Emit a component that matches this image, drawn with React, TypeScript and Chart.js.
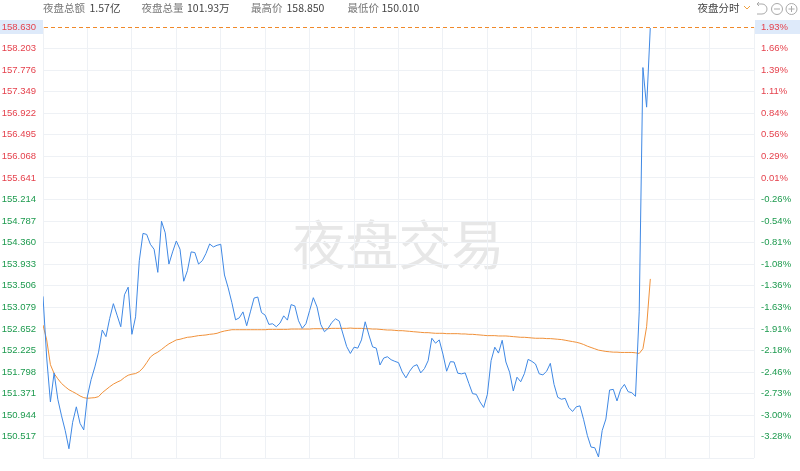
import { useEffect, useRef } from 'react';
import { Chart, registerables } from 'chart.js';

Chart.register(...registerables);

// ---- data ----
const leftTickLabels = ['158.630', '158.203', '157.776', '157.349', '156.922', '156.495', '156.068', '155.641', '155.214', '154.787', '154.360', '153.933', '153.506', '153.079', '152.652', '152.225', '151.798', '151.371', '150.944', '150.517'];
const rightTickLabels = ['1.93%', '1.66%', '1.39%', '1.11%', '0.84%', '0.56%', '0.29%', '0.01%', '-0.26%', '-0.54%', '-0.81%', '-1.08%', '-1.36%', '-1.63%', '-1.91%', '-2.18%', '-2.46%', '-2.73%', '-3.00%', '-3.28%'];
const axisMin = 150.09;
const lastPrice = 158.63;
const totalSlots = 192;
const gridStep = 12;

const headerLabels = ['夜盘总额', '夜盘总量', '最高价', '最低价'];
const headerValues = ['1.57亿', '101.93万', '158.850', '150.010'];
const modeLabel = '夜盘分时';
const watermark = '夜盘交易';

const prices = [
  153.296, 152.075, 151.207, 151.781, 151.259, 150.932, 150.639, 150.279, 150.802, 151.109,
  150.782, 150.652, 151.324, 151.651, 151.899, 152.192, 152.630, 152.499, 152.858, 153.152,
  152.924, 152.695, 153.328, 153.479, 152.545, 152.891, 154.001, 154.543, 154.523, 154.327,
  154.229, 153.772, 154.784, 154.556, 153.936, 154.177, 154.393, 154.229, 153.596, 153.805,
  154.177, 154.164, 153.936, 154.001, 154.145, 154.334, 154.275, 154.308, 154.327, 153.720,
  153.466, 153.172, 152.832, 152.871, 152.989, 152.715, 152.989, 153.263, 153.283, 152.976,
  152.924, 152.741, 152.754, 152.695, 152.767, 152.911, 152.826, 153.133, 153.107, 152.813,
  152.663, 152.754, 153.015, 153.270, 153.087, 152.741, 152.597, 152.663, 152.780, 152.852,
  152.806, 152.552, 152.303, 152.166, 152.290, 152.271, 152.434, 152.793, 152.532, 152.297,
  152.271, 151.938, 152.075, 152.101, 152.042, 152.010, 151.984, 151.801, 151.683, 151.814,
  151.912, 151.944, 151.781, 151.866, 152.023, 152.467, 152.369, 152.434, 152.153, 151.814,
  152.003, 151.997, 151.775, 151.762, 151.781, 151.572, 151.370, 151.357, 151.207, 151.096,
  151.357, 152.023, 152.290, 152.173, 152.427, 151.997, 151.794, 151.422, 151.696, 151.605,
  151.768, 152.049, 152.010, 151.957, 151.762, 151.742, 151.814, 151.970, 151.553, 151.298,
  151.259, 151.278, 151.096, 151.017, 151.109, 151.128, 150.854, 150.541, 150.312, 150.299,
  150.116, 150.639, 150.867, 151.442, 151.455, 151.226, 151.455, 151.553, 151.409, 151.389,
  151.318, 152.989, 157.827, 157.043, 158.630,
];

const avgPrices = [
  152.728, 152.434, 151.944, 151.768, 151.664, 151.572, 151.507, 151.448, 151.409, 151.370,
  151.324, 151.291, 151.278, 151.285, 151.291, 151.311, 151.389, 151.448, 151.507, 151.559,
  151.598, 151.631, 151.690, 151.735, 151.755, 151.768, 151.807, 151.879, 151.984, 152.095,
  152.153, 152.192, 152.245, 152.303, 152.356, 152.395, 152.434, 152.447, 152.467, 152.486,
  152.493, 152.506, 152.519, 152.525, 152.532, 152.545, 152.552, 152.565, 152.591, 152.610,
  152.623, 152.636, 152.636, 152.636, 152.636, 152.636, 152.636, 152.636, 152.636, 152.636,
  152.636, 152.643, 152.643, 152.643, 152.643, 152.643, 152.643, 152.649, 152.649, 152.649,
  152.649, 152.649, 152.649, 152.656, 152.656, 152.656, 152.656, 152.656, 152.663, 152.663,
  152.663, 152.663, 152.663, 152.669, 152.663, 152.663, 152.663, 152.656, 152.656, 152.649,
  152.649, 152.643, 152.636, 152.630, 152.630, 152.623, 152.617, 152.617, 152.610, 152.604,
  152.597, 152.591, 152.584, 152.578, 152.578, 152.571, 152.565, 152.565, 152.565, 152.558,
  152.558, 152.558, 152.558, 152.552, 152.552, 152.545, 152.545, 152.538, 152.532, 152.525,
  152.519, 152.519, 152.519, 152.512, 152.512, 152.512, 152.506, 152.499, 152.493, 152.486,
  152.486, 152.480, 152.473, 152.467, 152.467, 152.467, 152.460, 152.460, 152.454, 152.447,
  152.441, 152.428, 152.414, 152.401, 152.388, 152.369, 152.343, 152.310, 152.284, 152.258,
  152.232, 152.219, 152.206, 152.199, 152.192, 152.192, 152.186, 152.186, 152.186, 152.186,
  152.179, 152.166, 152.258, 152.695, 153.642,
];

// ---- styles ----
const RED = '#e5424d';
const GREEN = '#1d9a4e';
const GRID = '#eef1f5';
const BLUE = '#3f88e4';
const ORANGE = '#f0913a';
const DASH = '#f0892a';
const TICK_FONT = { family: '"Liberation Sans", Arial, sans-serif', size: 9.5 };
const CJK = '"Noto Sans CJK SC", "Liberation Sans", sans-serif';

const tickRows = leftTickLabels
  .map((l, i) => ({ value: parseFloat(l), left: l, right: rightTickLabels[i] }))
  .reverse();
const findRow = (v: number) => tickRows.find((r) => Math.abs(r.value - v) < 1e-6);
const buildYTicks = (s: any) => {
  s.ticks = [{ value: axisMin }, ...tickRows.map((r) => ({ value: r.value }))];
};
const rowColor = (c: any) => {
  const r = findRow(c.tick?.value);
  return r && !r.right.startsWith('-') ? RED : GREEN;
};

const decor = {
  id: 'decor',
  beforeDraw(chart: any) {
    const { ctx, chartArea: a, width } = chart;
    ctx.save();
    ctx.fillStyle = '#ffffff';
    ctx.fillRect(0, 0, width, chart.height);
    const y = chart.scales.y.getPixelForValue(lastPrice);
    ctx.fillStyle = '#deeafa';
    ctx.fillRect(0, y - 7, a.left, 14);
    ctx.fillRect(a.right + 1, y - 7, width - a.right - 1, 14);

    // watermark
    ctx.font = `53px ${CJK}`;
    ctx.fillStyle = '#e7e7e7';
    ctx.textAlign = 'center';
    ctx.textBaseline = 'middle';
    ctx.fillText(watermark, (a.left + a.right) / 2, (a.top + a.bottom) / 2 + 2);

    // header
    ctx.textAlign = 'left';
    ctx.font = `10.5px ${CJK}`;
    const labelX = [43, 141.5, 251, 347.5];
    const valueX = [89.5, 187, 286.5, 381.5];
    headerLabels.forEach((t, i) => {
      ctx.fillStyle = '#777';
      ctx.fillText(t, labelX[i], 8.5);
      ctx.fillStyle = '#444';
      ctx.fillText(headerValues[i], valueX[i], 8.5);
    });
    ctx.fillStyle = '#444';
    ctx.fillText(modeLabel, 697.5, 8.5);
    // chevron
    ctx.strokeStyle = '#f0a040';
    ctx.lineWidth = 1;
    ctx.beginPath();
    ctx.moveTo(744, 6);
    ctx.lineTo(747, 9);
    ctx.lineTo(750, 6);
    ctx.stroke();
    // icons
    ctx.strokeStyle = '#aaa';
    ctx.beginPath();
    ctx.arc(762, 9, 5, -Math.PI / 2, Math.PI / 2);
    ctx.lineTo(757, 14);
    ctx.moveTo(762, 4);
    ctx.lineTo(757, 4);
    ctx.moveTo(759, 2);
    ctx.lineTo(757, 4);
    ctx.lineTo(759, 6);
    ctx.stroke();
    ctx.beginPath();
    ctx.arc(777, 9, 5.5, 0, Math.PI * 2);
    ctx.moveTo(774, 9);
    ctx.lineTo(780, 9);
    ctx.stroke();
    ctx.beginPath();
    ctx.arc(791.5, 9, 5.5, 0, Math.PI * 2);
    ctx.moveTo(788.5, 9);
    ctx.lineTo(794.5, 9);
    ctx.moveTo(791.5, 6);
    ctx.lineTo(791.5, 12);
    ctx.stroke();
    ctx.restore();
  },
  afterDraw(chart: any) {
    const { ctx, chartArea: a } = chart;
    const y = Math.round(chart.scales.y.getPixelForValue(lastPrice));
    ctx.save();
    ctx.fillStyle = '#ffffff';
    ctx.fillRect(a.left + 1, y, a.right - a.left - 1, 1);
    ctx.fillStyle = DASH;
    for (let x = Math.round(a.left) + 1; x < a.right; x += 7) {
      ctx.fillRect(x, y, Math.min(4, a.right - x), 1);
    }
    ctx.restore();
  },
};

export default function App() {
  const ref = useRef<HTMLCanvasElement>(null);
  useEffect(() => {
    document.body.style.margin = '0';
    const chart = new Chart(ref.current as HTMLCanvasElement, {
      type: 'line',
      data: {
        datasets: [
          {
            data: prices.map((v, i) => ({ x: i, y: v })),
            borderColor: BLUE,
            borderWidth: 1,
            pointRadius: 0,
            tension: 0,
            yAxisID: 'y',
          },
          {
            data: avgPrices.map((v, i) => ({ x: i, y: v })),
            borderColor: ORANGE,
            borderWidth: 1,
            pointRadius: 0,
            tension: 0,
            yAxisID: 'y',
          },
        ],
      },
      options: {
        animation: false,
        responsive: false,
        devicePixelRatio: 1,
        layout: { padding: { top: 27, bottom: 8, left: 0, right: 0 } },
        plugins: { legend: { display: false }, tooltip: { enabled: false } },
        scales: {
          x: {
            type: 'linear',
            min: 0,
            max: totalSlots,
            afterBuildTicks: (s: any) => {
              const t = [];
              for (let v = 0; v <= totalSlots; v += gridStep) t.push({ value: v });
              s.ticks = t;
            },
            afterFit: (s: any) => {
              s.height = 0;
            },
            ticks: { display: false },
            grid: { color: GRID, drawTicks: false },
            border: { display: false },
          },
          y: {
            type: 'linear',
            position: 'left',
            min: axisMin,
            max: lastPrice,
            afterBuildTicks: buildYTicks,
            afterFit: (s: any) => {
              s.width = 43;
            },
            ticks: {
              autoSkip: false,
              padding: 7,
              font: TICK_FONT,
              color: rowColor,
              callback: (v: any) => findRow(v)?.left ?? '',
            },
            grid: { color: GRID, drawTicks: false },
            border: { display: false },
          },
          y2: {
            type: 'linear',
            position: 'right',
            min: axisMin,
            max: lastPrice,
            afterBuildTicks: buildYTicks,
            afterFit: (s: any) => {
              s.width = 46;
            },
            ticks: {
              autoSkip: false,
              padding: 7,
              font: TICK_FONT,
              color: rowColor,
              callback: (v: any) => findRow(v)?.right ?? '',
            },
            grid: { display: false, drawTicks: false },
            border: { display: false },
          },
        },
      },
      plugins: [decor],
    });
    return () => chart.destroy();
  }, []);
  return <canvas ref={ref} width={800} height={471} style={{ display: 'block' }} />;
}
